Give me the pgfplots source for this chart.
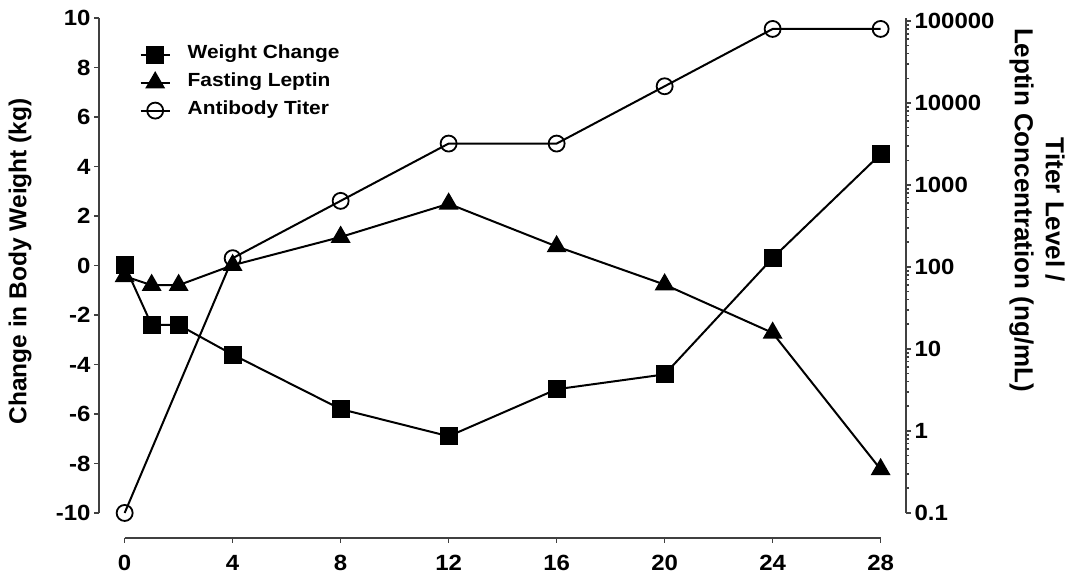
\documentclass[border=0pt]{standalone}
\usepackage{fontspec}
\setmainfont{Liberation Sans}
\newfontfamily\tickfont{Liberation Sans}[FakeStretch=1.09]
\newfontfamily\legfont{Liberation Sans}[FakeStretch=1.1]
\usepackage{pgfplots}
\usepackage{pgfplotstable}
\pgfplotsset{compat=1.18}

\pgfplotstableread{
x y
0 0
1 -2.4
2 -2.4
4 -3.6
8 -5.8
12 -6.9
16 -5.0
20 -4.4
24 0.3
28 4.5
}\weight

\pgfplotstableread{
x y
0 77
1 60
2 60
4 105
8 232
12 590
16 178
20 61
24 15.7
28 0.34
}\leptin

\pgfplotstableread{
x y
0 0.1
4 128
8 640
12 3200
16 3200
20 16000
24 80000
28 80000
}\titer

\pgfplotsset{
  common/.style={
    scale only axis, width=807pt, height=520pt,
    xmin=-0.95, xmax=28.94,
    tick align=outside,
    major tick length=5pt, minor tick length=3pt,
    every tick/.style={line width=1.6pt, black!75},
    tick label style={font=\tickfont\bfseries\fontsize{22}{26}\selectfont},
    /pgf/number format/assume math mode=true,
    clip=false,
  },
  wline/.style={line width=2pt, black},
}

\begin{document}
\begin{tikzpicture}
\begin{axis}[common, name=ax,
  ymin=-11.01, ymax=10,
  axis x line*=bottom, axis y line*=left,
  axis line style={draw=none},
  xtick={0,4,...,28}, ytick={-10,-8,...,10},
  xticklabels={0,4,8,12,16,20,24,28},
  yticklabels={-10,-8,-6,-4,-2,0,2,4,6,8,10},
  xticklabel style={yshift=-9pt},
]
\draw[line width=1.6pt, black!75] (axis cs:0,-11.01) -- (axis cs:28,-11.01);
\draw[line width=1.6pt, black!75] (axis cs:-0.95,-10) -- (axis cs:-0.95,10);
\addplot[wline, mark=square*, mark size=8pt, mark options={solid, fill=black}] table[x=x,y=y] {\weight};
\end{axis}

\begin{axis}[common,
  ymode=log, ymin=0.0495, ymax=1.088e5,
  axis x line=none, axis y line*=right,
  axis line style={draw=none},
  ytick={0.1,1,10,100,1000,10000,100000},
  yticklabels={0.1,1,10,100,1000,10000,100000},
  minor ytick={0.2,0.3,0.4,0.5,0.6,0.7,0.8,0.9,2,3,4,5,6,7,8,9,20,30,40,50,60,70,80,90,200,300,400,500,600,700,800,900,2000,3000,4000,5000,6000,7000,8000,9000,20000,30000,40000,50000,60000,70000,80000,90000},
  legend cell align=left,
  legend style={draw=none, fill=none, at={(axis cs:0.55,58000)}, anchor=north west,
    font=\legfont\bfseries\fontsize{19}{23}\selectfont, inner sep=0pt, column sep=15pt,
    nodes={inner sep=2pt, text height=16pt, text depth=8pt}},
  legend image code/.code={\draw[#1, mark=none] plot coordinates {(0pt,0pt)(29pt,0pt)};
     \draw[#1] plot coordinates {(14.5pt,0pt)};},
]
\draw[line width=1.6pt, black!75] (axis cs:28.94,0.1) -- (axis cs:28.94,1.088e5);
\addlegendimage{wline, mark=square*, mark size=8pt, mark options={solid, fill=black}}
\addlegendentry{Weight Change}
\addplot[wline, mark=triangle*, mark size=9.5pt, mark options={solid, fill=black}] table[x=x,y=y] {\leptin};
\addlegendentry{Fasting Leptin}
\addplot[wline, mark=o, mark size=8pt, mark options={solid, line width=1.8pt, fill=white}] table[x=x,y=y] {\titer};
\addlegendentry{Antibody Titer}
\end{axis}

\node[rotate=90, font=\bfseries\fontsize{24.5}{28}\selectfont] at ([shift={(-79pt,-243.5pt)}]ax.north west) {Change in Body Weight (kg)};
\node[rotate=-90, align=center, font=\bfseries\fontsize{26}{31}\selectfont] at ([shift={(131pt,-192pt)}]ax.north east) {Titer Level /\\Leptin Concentration (ng/mL)};

\pgfresetboundingbox
\path[use as bounding box] ([shift={(-99pt,-37pt)}]ax.south west) rectangle ([shift={(159pt,18pt)}]ax.north east);
\end{tikzpicture}
\end{document}
